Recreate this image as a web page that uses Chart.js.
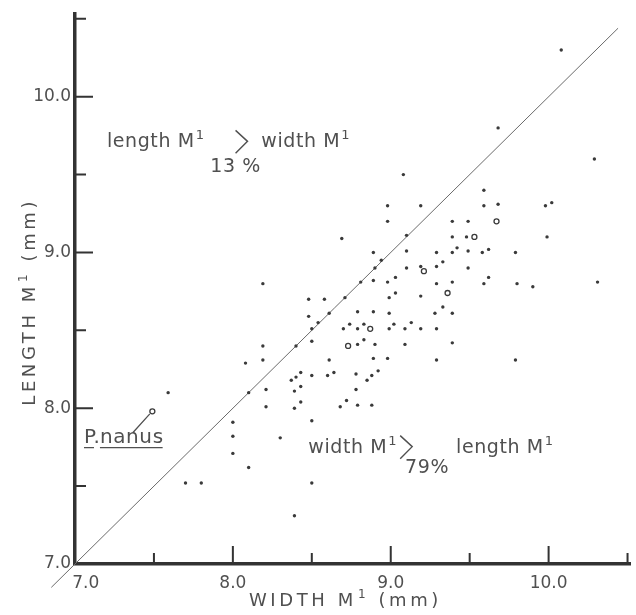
<!DOCTYPE html>
<html>
<head>
<meta charset="utf-8">
<script src="https://cdn.jsdelivr.net/npm/chart.js@4.4.1/dist/chart.umd.min.js"></script>
<style>
  html, body { margin: 0; padding: 0; background: #fff; }
</style>
</head>
<body>
<canvas id="chart" width="636" height="615"></canvas>
<script>
// tick values (mm)
const xTickValues = [7, 8, 9, 10];
const yTickValues = [7, 8, 9, 10];
const majorTicks = [8, 9, 10];
const minorTicks = [7.5, 8.5, 9.5, 10.5];

// M1 width / length, solid dots
const widthM1 = [
  10.08, 9.68, 10.29, 9.08, 9.59, 8.98, 9.19, 9.59, 9.68, 9.98, 10.02,
  8.98, 9.39, 9.49, 8.69, 9.10, 9.39, 9.48, 9.99,
  8.89, 9.10, 9.29, 9.39, 9.42, 9.49, 9.58, 9.62, 9.79,
  8.94, 8.90, 9.10, 9.19, 9.29, 9.33, 9.49,
  8.81, 8.89, 8.98, 9.03, 9.29, 9.39, 9.59, 9.62, 9.80, 9.90, 10.31, 8.19,
  8.48, 8.58, 8.71, 8.99, 9.03, 9.19, 9.33,
  8.48, 8.61, 8.54, 8.50, 8.79, 8.89, 8.99, 9.28, 9.39,
  8.70, 8.74, 8.79, 8.83, 8.99, 9.02, 9.09, 9.13, 9.19, 9.29,
  8.19, 8.40, 8.50, 8.79, 8.83, 8.90, 9.09, 9.39,
  8.08, 8.19, 8.61, 8.89, 8.98, 9.29, 9.79,
  8.37, 8.40, 8.43, 8.50, 8.60, 8.64, 8.78, 8.85, 8.88, 8.92,
  7.59, 8.10, 8.21, 8.39, 8.43, 8.78,
  8.21, 8.39, 8.43, 8.68, 8.72, 8.79, 8.88,
  8.00, 8.50, 8.00, 8.30, 8.00, 8.10, 7.70, 7.80, 8.50, 8.39
];
const lengthM1 = [
  10.30, 9.80, 9.60, 9.50, 9.40, 9.30, 9.30, 9.30, 9.31, 9.30, 9.32,
  9.20, 9.20, 9.20, 9.09, 9.11, 9.10, 9.10, 9.10,
  9.00, 9.01, 9.00, 9.00, 9.03, 9.01, 9.00, 9.02, 9.00,
  8.95, 8.90, 8.90, 8.91, 8.91, 8.94, 8.90,
  8.81, 8.82, 8.81, 8.84, 8.80, 8.81, 8.80, 8.84, 8.80, 8.78, 8.81, 8.80,
  8.70, 8.70, 8.71, 8.71, 8.74, 8.72, 8.65,
  8.59, 8.61, 8.55, 8.51, 8.62, 8.62, 8.61, 8.61, 8.61,
  8.51, 8.54, 8.51, 8.54, 8.51, 8.54, 8.51, 8.55, 8.51, 8.51,
  8.40, 8.40, 8.43, 8.41, 8.44, 8.41, 8.41, 8.42,
  8.29, 8.31, 8.31, 8.32, 8.32, 8.31, 8.31,
  8.18, 8.20, 8.23, 8.21, 8.21, 8.23, 8.22, 8.18, 8.21, 8.24,
  8.10, 8.10, 8.12, 8.11, 8.14, 8.12,
  8.01, 8.00, 8.04, 8.01, 8.05, 8.02, 8.02,
  7.91, 7.92, 7.82, 7.81, 7.71, 7.62, 7.52, 7.52, 7.52, 7.31
];

// open circles
const openWidth = [9.67, 9.53, 9.21, 9.36, 8.87, 8.73];
const openLength = [9.20, 9.10, 8.88, 8.74, 8.51, 8.40];

// P. nanus
const nanusWidth = [7.49];
const nanusLength = [7.98];

// width = length line
const equalityLine = [6.85, 10.44];

const TEXT = '#505050';
const AXIS = '#333333';
const FONT = '"DejaVu Sans", sans-serif';

const toPoints = (xs, ys) => xs.map((x, i) => ({ x, y: ys[i] }));

// labels drawn inside the plot, anchored in data units
const regionLabels = [
  { left: ['length M', '1'], right: ['width M', '1'], x0: 7.202, x1: 8.737, y: 9.675,
    chevron: [8.017, 8.093], pct: '13 %', pctX: 8.017, pctY: 9.515 },
  { left: ['width M', '1'], right: ['length M', '1'], x0: 8.478, x1: 10.026, y: 7.715,
    chevron: [9.06, 9.136], pct: '79%', pctX: 9.23, pctY: 7.587 }
];

// text with a raised "1": parts = [text, sup, text...]
function drawParts(ctx, parts, x, y, align, size) {
  const supSize = Math.round(size * 0.66);
  const widths = parts.map((t, i) => {
    ctx.font = (i % 2 ? supSize : size) + 'px ' + FONT;
    return ctx.measureText(t).width;
  });
  const total = widths.reduce((a, b) => a + b, 0);
  let cx = align === 'center' ? x - total / 2 : align === 'right' ? x - total : x;
  ctx.textAlign = 'left';
  parts.forEach((t, i) => {
    const sup = i % 2 === 1;
    ctx.font = (sup ? supSize : size) + 'px ' + FONT;
    ctx.fillText(t, cx + (sup ? 1 : 0), sup ? y - size * 0.42 : y);
    cx += widths[i] + (sup ? 1 : 0);
  });
}

const annotationPlugin = {
  id: 'annotations',
  afterDraw(chart) {
    const ctx = chart.ctx;
    const xs = chart.scales.x;
    const ys = chart.scales.y;
    const px = v => xs.getPixelForValue(v);
    const py = v => ys.getPixelForValue(v);
    const area = chart.chartArea;

    ctx.save();

    // inward tick marks
    ctx.strokeStyle = AXIS;
    ctx.lineWidth = 2;
    const tick = (v, len) => {
      ctx.beginPath();
      ctx.moveTo(px(v), area.bottom);
      ctx.lineTo(px(v), area.bottom - len);
      ctx.moveTo(area.left, py(v));
      ctx.lineTo(area.left + len, py(v));
      ctx.stroke();
    };
    majorTicks.forEach(v => tick(v, 18));
    minorTicks.forEach(v => tick(v, 11));

    // axis titles
    ctx.fillStyle = TEXT;
    ctx.textBaseline = 'alphabetic';
    ctx.letterSpacing = '3.6px';
    drawParts(ctx, ['WIDTH M', '1', ' (mm)'], px(8.71), 606, 'center', 18);
    ctx.save();
    ctx.translate(35, py(8.68));
    ctx.rotate(-Math.PI / 2);
    drawParts(ctx, ['LENGTH M', '1', ' (mm)'], 0, 0, 'center', 18);
    ctx.restore();

    // region labels
    ctx.letterSpacing = '0.6px';
    regionLabels.forEach(l => {
      const base = py(l.y);
      drawParts(ctx, l.left, px(l.x0), base, 'left', 19);
      drawParts(ctx, l.right, px(l.x1), base, 'right', 19);
      ctx.font = '19px ' + FONT;
      ctx.textAlign = 'center';
      ctx.fillText(l.pct, px(l.pctX), py(l.pctY));
      ctx.beginPath();
      ctx.lineWidth = 1.4;
      ctx.strokeStyle = TEXT;
      ctx.moveTo(px(l.chevron[0]), base - 17);
      ctx.lineTo(px(l.chevron[1]), base - 6);
      ctx.lineTo(px(l.chevron[0]), base + 6);
      ctx.stroke();
    });

    // P. nanus label with underline and leader
    const nx = px(7.057);
    const ny = py(7.779);
    ctx.font = '20px ' + FONT;
    ctx.textAlign = 'left';
    ctx.fillText('P.', nx, ny);
    const nanusX = px(7.158);
    ctx.fillText('nanus', nanusX, ny);
    const nanusW = ctx.measureText('nanus').width;
    ctx.lineWidth = 1.3;
    ctx.beginPath();
    ctx.moveTo(nx, ny + 5);
    ctx.lineTo(nx + 10, ny + 5);
    ctx.moveTo(nanusX, ny + 5);
    ctx.lineTo(nanusX + nanusW - 1, ny + 5);
    ctx.moveTo(px(7.366), py(7.843));
    ctx.lineTo(px(7.474), py(7.964));
    ctx.stroke();

    ctx.restore();
  }
};

const tickFont = { family: FONT, size: 17 };

new Chart(document.getElementById('chart'), {
  type: 'scatter',
  data: {
    datasets: [
      {
        label: 'M1',
        data: toPoints(widthM1, lengthM1),
        pointRadius: 1.7,
        pointBackgroundColor: '#3a3a3a',
        pointBorderWidth: 0
      },
      {
        label: 'M1 (open)',
        data: toPoints(openWidth, openLength),
        pointRadius: 2.5,
        pointBackgroundColor: '#fff',
        pointBorderColor: '#3a3a3a',
        pointBorderWidth: 1.3
      },
      {
        label: 'P. nanus',
        data: toPoints(nanusWidth, nanusLength),
        pointRadius: 2.5,
        pointBackgroundColor: '#fff',
        pointBorderColor: '#3a3a3a',
        pointBorderWidth: 1.3
      },
      {
        label: 'width = length',
        data: toPoints(equalityLine, equalityLine),
        showLine: true,
        pointRadius: 0,
        borderColor: '#6a6a6a',
        borderWidth: 1,
        clip: false
      }
    ]
  },
  options: {
    responsive: false,
    animation: false,
    devicePixelRatio: 1,
    layout: { padding: { top: 11, right: 4, left: 0, bottom: 0 } },
    plugins: {
      legend: { display: false },
      tooltip: { enabled: false }
    },
    scales: {
      x: {
        type: 'linear',
        min: 7,
        max: 10.52,
        afterFit: s => { s.height = 51; },
        afterBuildTicks: s => { s.ticks = xTickValues.map(v => ({ value: v })); },
        grid: { display: false, drawTicks: false },
        border: { display: true, color: AXIS, width: 3.5 },
        ticks: {
          autoSkip: false,
          maxRotation: 0,
          padding: 9,
          color: TEXT,
          font: tickFont,
          callback: v => (v === 7 ? '    7.0' : v.toFixed(1))
        }
      },
      y: {
        type: 'linear',
        min: 7,
        max: 10.53,
        afterFit: s => { s.width = 75; },
        afterBuildTicks: s => { s.ticks = yTickValues.map(v => ({ value: v })); },
        grid: { display: false, drawTicks: false },
        border: { display: true, color: AXIS, width: 3.5 },
        ticks: {
          autoSkip: false,
          padding: 4,
          color: TEXT,
          font: tickFont,
          callback: v => v.toFixed(1)
        }
      }
    }
  },
  plugins: [annotationPlugin]
});
</script>
</body>
</html>
